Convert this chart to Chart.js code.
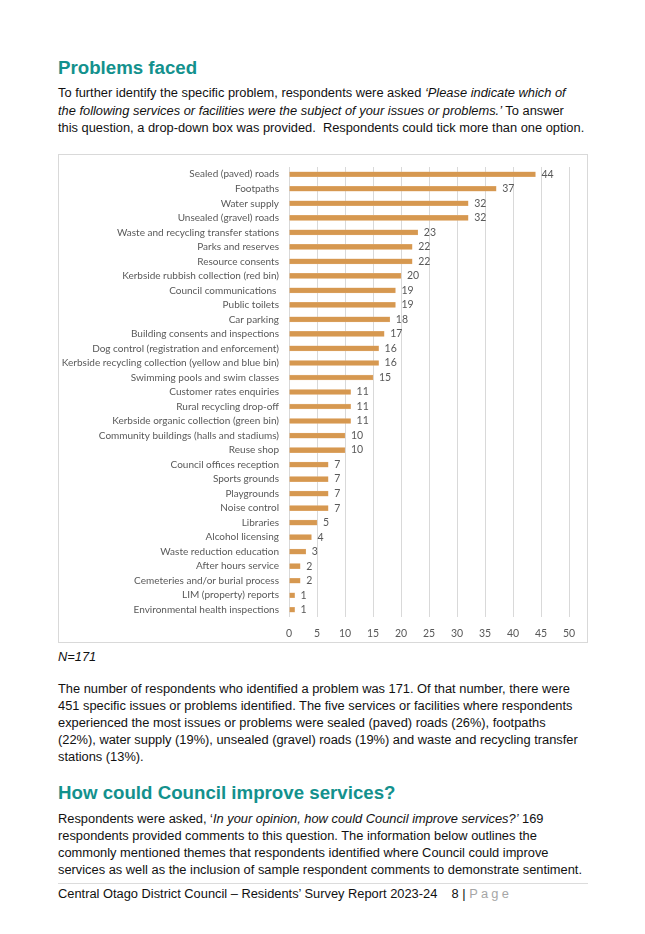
<!DOCTYPE html>
<html>
<head>
<meta charset="utf-8">
<script src="https://cdn.jsdelivr.net/npm/chart.js@4.4.1/dist/chart.umd.min.js"></script>
<style>
  body { margin: 0; background: #fff; width: 645px; height: 934px; position: relative; overflow: hidden;
         font-family: "Liberation Sans", Arial, sans-serif; color: #111; }
  .t { position: absolute; left: 58px; white-space: nowrap; font-size: 12.85px; line-height: 17px; }
  h2 { position: absolute; left: 58px; margin: 0; font-size: 18.7px; line-height: 22px; font-weight: bold; color: #13918d; }
  .box { position: absolute; left: 58px; top: 154px; width: 528px; height: 487px; border: 1px solid #d9d9d9; }
  .rule { position: absolute; left: 58px; top: 883px; width: 530px; height: 0; border-top: 1px solid #dcdcdc; }
  .pg { color: #a6a6a6; letter-spacing: 3.2px; }
</style>
</head>
<body>
<h2 style="top:57px">Problems faced</h2>
<div class="t" style="top:84px; line-height:17.5px">To further identify the specific problem, respondents were asked <i>‘Please indicate which of<br>the following services or facilities were the subject of your issues or problems.’</i> To answer<br>this question, a drop-down box was provided.&nbsp; Respondents could tick more than one option.</div>

<div class="box"><canvas id="chart"></canvas></div>

<div class="t" style="top:648px"><i>N=171</i></div>
<div class="t" style="top:680px">The number of respondents who identified a problem was 171. Of that number, there were<br>451 specific issues or problems identified. The five services or facilities where respondents<br>experienced the most issues or problems were sealed (paved) roads (26%), footpaths<br>(22%), water supply (19%), unsealed (gravel) roads (19%) and waste and recycling transfer<br>stations (13%).</div>

<h2 style="top:782px">How could Council improve services?</h2>
<div class="t" style="top:810px">Respondents were asked, ‘<i>In your opinion, how could Council improve services?’</i> 169<br>respondents provided comments to this question. The information below outlines the<br>commonly mentioned themes that respondents identified where Council could improve<br>services as well as the inclusion of sample respondent comments to demonstrate sentiment.</div>
<div class="rule"></div>
<div class="t" style="top:885px">Central Otago District Council – Residents’ Survey Report 2023-24&nbsp;&nbsp;&nbsp;&nbsp;8 | <span class="pg">Page</span></div>

<script>
const categories = [
  "Sealed (paved) roads", "Footpaths", "Water supply", "Unsealed (gravel) roads",
  "Waste and recycling transfer stations", "Parks and reserves", "Resource consents",
  "Kerbside rubbish collection (red bin)", "Council communications ", "Public toilets",
  "Car parking", "Building consents and inspections", "Dog control (registration and enforcement)",
  "Kerbside recycling collection (yellow and blue bin)", "Swimming pools and swim classes",
  "Customer rates enquiries", "Rural recycling drop-off", "Kerbside organic collection (green bin)",
  "Community buildings (halls and stadiums)", "Reuse shop", "Council offices reception",
  "Sports grounds", "Playgrounds", "Noise control", "Libraries", "Alcohol licensing",
  "Waste reduction education", "After hours service", "Cemeteries and/or burial process",
  "LIM (property) reports", "Environmental health inspections"
];
const counts = [44, 37, 32, 32, 23, 22, 22, 20, 19, 19, 18, 17, 16, 16, 15, 11, 11, 11, 10, 10, 7, 7, 7, 7, 5, 4, 3, 2, 2, 1, 1];
const xTicks = [0, 5, 10, 15, 20, 25, 30, 35, 40, 45, 50];

const labelFont = { family: "Lato", size: 10 };
const textGrey = "#595959";

// value printed just right of each bar
const valueLabels = {
  id: "valueLabels",
  afterDatasetsDraw(chart) {
    const ctx = chart.ctx;
    const meta = chart.getDatasetMeta(0);
    ctx.save();
    ctx.font = "10.5px " + labelFont.family;
    ctx.fillStyle = textGrey;
    ctx.textAlign = "left";
    ctx.textBaseline = "middle";
    meta.data.forEach((bar, i) => {
      ctx.fillText(String(counts[i]), bar.x + 6, bar.y);
    });
    ctx.restore();
  },
};

new Chart(document.getElementById("chart"), {
  type: "bar",
  data: {
    labels: categories,
    datasets: [{
      data: counts,
      backgroundColor: "#d69850",
      borderColor: "#e2b078",
      borderWidth: 0.5,
      barThickness: 5,
    }],
  },
  options: {
    indexAxis: "y",
    responsive: true,
    maintainAspectRatio: false,
    animation: false,
    layout: { padding: { top: 12, right: 18, left: 0, bottom: 0 } },
    plugins: { legend: { display: false }, tooltip: { enabled: false } },
    scales: {
      x: {
        min: 0,
        max: 50,
        afterBuildTicks: (s) => { s.ticks = xTicks.map((v) => ({ value: v })); },
        afterFit: (s) => { s.height = 25; },
        grid: { color: "#d9d9d9", drawTicks: false },
        border: { display: false },
        ticks: { color: textGrey, font: { family: "Lato", size: 10.5 }, padding: 10 },
      },
      y: {
        // fixed label column, and no extra room above/below for the labels
        afterFit: (s) => { s.width = 230; s.paddingTop = 0; s.paddingBottom = 0; },
        grid: { display: false, drawTicks: false },
        border: { display: false },
        ticks: { color: textGrey, font: labelFont, padding: 10, autoSkip: false },
      },
    },
  },
  plugins: [valueLabels],
});
</script>
</body>
</html>
